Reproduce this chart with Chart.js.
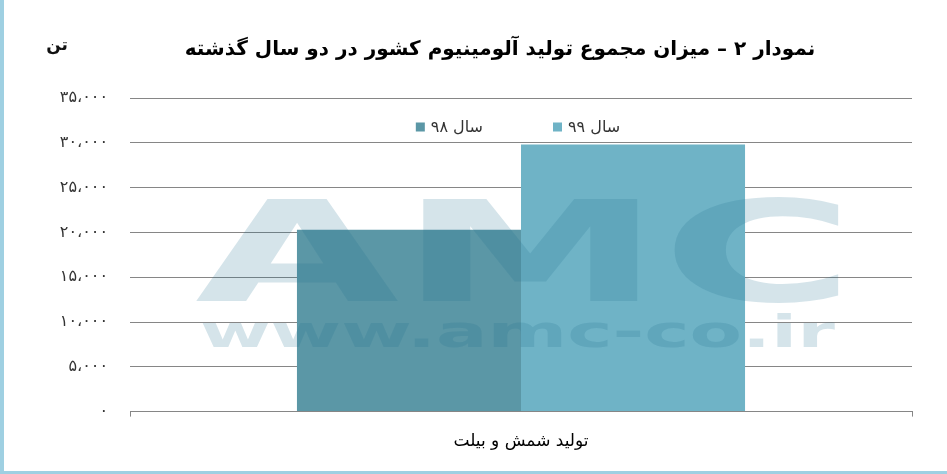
<!DOCTYPE html>
<html lang="fa">
<head>
<meta charset="utf-8">
<script src="https://cdn.jsdelivr.net/npm/chart.js@4.4.1/dist/chart.umd.min.js"></script>
<style>
  html, body { margin: 0; padding: 0; background: #fff; }
  #wrap {
    width: 943px; height: 471px;
    border-left: 4px solid #9fd0e2;
    border-bottom: 3px solid #9fd0e2;
  }
  canvas { display: block; direction: rtl; }
</style>
</head>
<body>
<div id="wrap"><canvas id="chart" width="943" height="471"></canvas></div>
<script>
// داده‌ها
const chartTitle = 'نمودار ۲ – میزان مجموع تولید آلومینیوم کشور در دو سال گذشته';
const unitLabel = 'تن';
const categories = ['تولید شمش و بیلت'];
const seriesNames = ['سال ۹۸', 'سال ۹۹'];
const values98 = [20300];
const values99 = [29800];
const yTicks = [0, 5000, 10000, 15000, 20000, 25000, 30000, 35000];
const colors = ['#5b97a6', '#6fb3c6'];

const FONT = '"DejaVu Sans", sans-serif';

function toFa(n) {
  const digits = '۰۱۲۳۴۵۶۷۸۹';
  return n.toLocaleString('en-US').replace(/\d/g, d => digits[d]).replace(/,/g, '،');
}

// واترمارک، عنوان، راهنما و واحد محور
const extras = {
  id: 'extras',
  afterDatasetsDraw(chart) {
    const ctx = chart.ctx;
    const a = chart.chartArea;
    ctx.save();
    ctx.fillStyle = 'rgba(33,112,144,0.19)';
    ctx.textBaseline = 'alphabetic';
    ctx.textAlign = 'left';
    ctx.direction = 'ltr';
    ctx.font = 'bold 140px "DejaVu Sans", sans-serif';
    let w = ctx.measureText('AMC').width;
    ctx.save();
    ctx.translate(a.left + 65, a.top + 203);
    ctx.scale(660 / w, 1);
    ctx.fillText('AMC', 0, 0);
    ctx.restore();
    ctx.font = 'bold 44px "DejaVu Sans", sans-serif';
    w = ctx.measureText('www.amc-co.ir').width;
    ctx.save();
    ctx.translate(a.left + 70, a.top + 249);
    ctx.scale(635 / w, 1);
    ctx.fillText('www.amc-co.ir', 0, 0);
    ctx.restore();
    ctx.restore();
  },
  afterDraw(chart) {
    const ctx = chart.ctx;
    const a = chart.chartArea;
    ctx.save();
    // عنوان
    ctx.font = 'bold 20px ' + FONT;
    ctx.fillStyle = '#000';
    ctx.textAlign = 'center';
    ctx.textBaseline = 'middle';
    ctx.fillText(chartTitle, 496, 50);
    // راهنما
    ctx.font = '16px ' + FONT;
    ctx.textAlign = 'left';
    const box = 9, gap = 6, itemGap = 70;
    const widths = seriesNames.map(s => box + gap + ctx.measureText(s).width);
    const total = widths.reduce((s, v) => s + v, 0) + itemGap * (seriesNames.length - 1);
    let x = (a.left + a.right) / 2 - total / 2 - 3;
    const y = a.top + 29;
    seriesNames.forEach((s, i) => {
      ctx.fillStyle = colors[i];
      ctx.fillRect(x, y - box / 2, box, box);
      ctx.fillStyle = '#333';
      ctx.fillText(s, x + box + gap, y + 1);
      x += widths[i] + itemGap;
    });
    // واحد
    ctx.font = 'bold 17px ' + FONT;
    ctx.fillStyle = '#111';
    ctx.textAlign = 'center';
    ctx.fillText(unitLabel, 53, 46);
    ctx.restore();
  }
};

new Chart(document.getElementById('chart'), {
  type: 'bar',
  data: {
    labels: categories,
    datasets: [
      { label: seriesNames[0], data: values98, backgroundColor: colors[0] },
      { label: seriesNames[1], data: values99, backgroundColor: colors[1] }
    ]
  },
  options: {
    responsive: false,
    animation: false,
    layout: { padding: { left: 0, right: 35, top: 98, bottom: 4 } },
    categoryPercentage: 0.573,
    barPercentage: 1,
    plugins: {
      legend: { display: false },
      tooltip: { enabled: false },
      title: { display: false }
    },
    scales: {
      x: {
        grid: { drawOnChartArea: false, tickLength: 5, color: '#868686', offset: true },
        border: { color: '#868686' },
        ticks: { color: '#000', padding: 15, font: { family: FONT, size: 17 } }
      },
      y: {
        z: 1,
        min: 0,
        max: 35000,
        afterFit(s) { s.width = 126; },
        afterBuildTicks(s) { s.ticks = yTicks.map(v => ({ value: v })); },
        grid: { color: '#868686', drawTicks: false },
        border: { display: false },
        ticks: {
          color: '#333',
          padding: 22,
          font: { family: FONT, size: 16 },
          callback: v => toFa(v)
        }
      }
    }
  },
  plugins: [extras]
});
</script>
</body>
</html>
